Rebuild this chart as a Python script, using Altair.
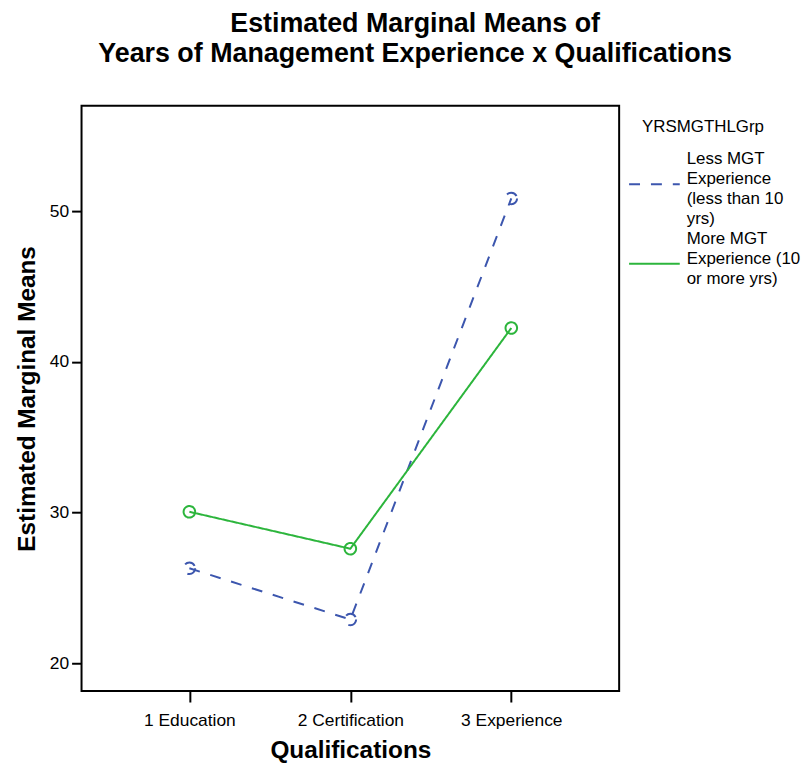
import altair as alt
import pandas as pd

qualifications = ["1 Education", "2 Certification", "3 Experience"]
groups = [
    "Less MGT Experience (less than 10 yrs)",
    "More MGT Experience (10 or more yrs)",
]
less_means = [26.3, 22.9, 50.85]
more_means = [30.05, 27.6, 42.25]
legend_title = "YRSMGTHLGrp"
legend_lines = [
    ["Less MGT", "Experience", "(less than 10", "yrs)"],
    ["More MGT", "Experience (10", "or more yrs)"],
]
y_ticks = [20, 30, 40, 50]

BLUE = "#3C56AE"
GREEN = "#2CB53C"
FONT = "Liberation Sans"
DASHES = [[11, 11], [1, 0]]

PLOT_W, PLOT_H = 541, 589
ROW = 20.0  # legend line spacing in px

rows = []
for g, vals in zip(groups, [less_means, more_means]):
    for q, v in zip(qualifications, vals):
        rows.append({"qual": q, "group": g, "mean": v})
df = pd.DataFrame(rows)

color_scale = alt.Scale(domain=groups, range=[BLUE, GREEN])
dash_scale = alt.Scale(domain=groups, range=DASHES)

x = alt.X(
    "qual:N",
    sort=qualifications,
    scale=alt.Scale(type="point", padding=0.67, align=0.5),
    axis=alt.Axis(
        title="Qualifications",
        labelAngle=0,
        domain=False,
        tickSize=11,
        tickWidth=2,
        tickColor="black",
        labelFont=FONT,
        labelFontSize=17.5,
        labelColor="black",
        labelPadding=10,
        titleFont=FONT,
        titleFontSize=24.5,
        titleFontWeight="bold",
        titleColor="black",
        titlePadding=9,
    ),
)
y = alt.Y(
    "mean:Q",
    scale=alt.Scale(domain=[18.15, 57.0], nice=False, zero=False),
    axis=alt.Axis(
        title="Estimated Marginal Means",
        values=y_ticks,
        grid=False,
        domain=False,
        tickSize=10,
        tickWidth=2,
        tickColor="black",
        labelFont=FONT,
        labelFontSize=17.5,
        labelColor="black",
        labelPadding=3,
        titleFont=FONT,
        titleFontSize=24.5,
        titleFontWeight="bold",
        titleColor="black",
        titlePadding=10,
    ),
)
color = alt.Color("group:N", scale=color_scale, legend=None)
dash = alt.StrokeDash("group:N", scale=dash_scale, legend=None)

lines = alt.Chart(df).mark_line(strokeWidth=2).encode(
    x=x, y=y, color=color, strokeDash=dash, detail="group:N"
)
points = alt.Chart(df).mark_point(filled=False, size=135, strokeWidth=2, opacity=1).encode(
    x=x, y=y, color=color, strokeDash=dash
)
main = alt.layer(lines, points).properties(
    width=PLOT_W,
    height=PLOT_H,
    view=alt.ViewBackground(stroke="black", strokeWidth=2),
)

# ---- legend panel (built from the legend arrays) ----
first_slot = 2.7
text_rows = [{"slot": 21 / ROW, "txt": legend_title, "kind": "title"}]
sym_rows = []
k = 0
for g, lines_ in zip(groups, legend_lines):
    sym_rows.append({"group": g, "slot": first_slot + k + 1.25})
    for ln in lines_:
        text_rows.append({"slot": first_slot + k, "txt": ln, "kind": "label"})
        k += 1
tdf = pd.DataFrame(text_rows)
sdf = pd.DataFrame(sym_rows)

ly = alt.Y("slot:Q", scale=alt.Scale(domain=[0, PLOT_H / ROW], reverse=True), axis=None)

leg_title = alt.Chart(tdf).transform_filter("datum.kind == 'title'").mark_text(
    font=FONT, fontSize=17, align="left", baseline="middle", color="black"
).encode(x=alt.value(13), y=ly, text="txt:N")
leg_labels = alt.Chart(tdf).transform_filter("datum.kind == 'label'").mark_text(
    font=FONT, fontSize=17, align="left", baseline="middle", color="black"
).encode(x=alt.value(58), y=ly, text="txt:N")
leg_syms = alt.Chart(sdf).mark_rule(strokeWidth=2).encode(
    x=alt.value(0),
    x2=alt.value(51),
    y=ly,
    color=alt.Color("group:N", scale=color_scale, legend=None),
    strokeDash=alt.StrokeDash("group:N", scale=dash_scale, legend=None),
)
legend_panel = alt.layer(leg_syms, leg_title, leg_labels).properties(
    width=170,
    height=PLOT_H,
    view=alt.ViewBackground(stroke="transparent"),
)

chart = (
    alt.hconcat(main, legend_panel, spacing=7)
    .properties(
        padding={"left": 5, "top": 0, "right": 0, "bottom": 0},
        title=alt.TitleParams(
            text=["Estimated Marginal Means of", "Years of Management Experience x Qualifications"],
            font=FONT,
            fontSize=27,
            fontWeight="bold",
            color="black",
            anchor="middle",
            frame="bounds",
            lineHeight=30,
            offset=37,
            dx=8,
        ),
    )
    .configure(background="white")
)

chart.save("out.html", embed_options={"renderer": "svg", "actions": False})
